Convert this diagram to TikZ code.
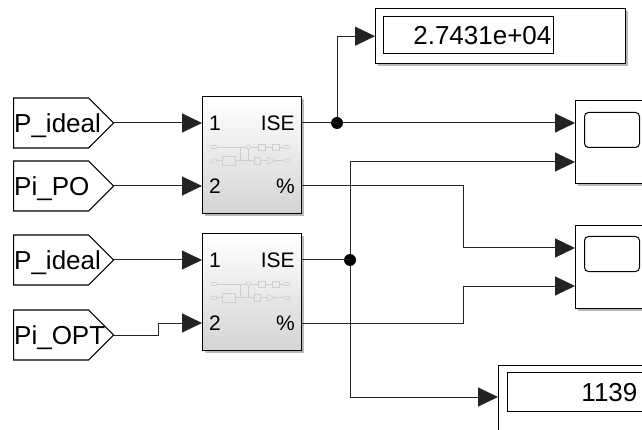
\documentclass[tikz,border=0pt]{standalone}
\usepackage{fontspec}
\setmainfont{Liberation Sans}
\usetikzlibrary{shapes.symbols,arrows.meta,positioning,calc,shadows}

\definecolor{wirecol}{RGB}{35,35,35}
\definecolor{icongray}{RGB}{205,205,205}

\tikzset{
    sig/.style={draw=wirecol, line width=1pt, -{Triangle[length=20pt,width=19pt]}},
    bare/.style={draw=wirecol, line width=1pt},
    goto/.style={signal, signal to=east, signal pointer angle=90, draw=black, line width=1.2pt,
        fill=white, minimum width=100pt, minimum height=50pt, inner sep=0pt},
    bigtext/.style={font=\fontsize{26}{30}\selectfont, text height=18.6pt, text depth=0pt},
    porttext/.style={font=\fontsize{21}{24}\selectfont, text height=15pt, text depth=0pt, inner sep=0pt},
    blkshadow/.style={drop shadow={shadow xshift=2.5pt, shadow yshift=-2.5pt, fill=black!50, opacity=.55}},
    subsys/.style={draw=black, line width=1.4pt, top color=white, bottom color=black!17,
        minimum width=99pt, minimum height=117pt, inner sep=0pt, blkshadow},
    dispbox/.style={draw=black, line width=1.4pt, fill=white, inner sep=0pt, blkshadow},
    dispval/.style={draw=black, line width=0.8pt, align=right, bigtext, inner ysep=0pt},
    scopebox/.style={draw=black, line width=1.4pt, fill=white, minimum width=100pt,
        minimum height=83pt, inner sep=0pt, blkshadow},
    screen/.style={draw=black, line width=1pt, rounded corners=4pt, minimum width=55pt,
        minimum height=35pt, inner sep=0pt},
    junction/.style={circle, fill=black, inner sep=0pt, minimum size=12pt},
    subicon/.pic={
        \begin{scope}[draw=icongray, line width=0.6pt]
        % upper row
        \draw[rounded corners=1pt] (9,49.5) rectangle (15,52.5);
        \draw (15,51) -- (44.3,51) (48.3,51) -- (56.3,51);
        \draw (46.3,51) circle (2pt);
        \draw (38,51) -- (38,64.7) (46.3,53) -- (46.3,64.7);
        \draw (56.3,48) rectangle (63,54);
        \draw (63,51) -- (70.7,51);
        \draw (70.7,48) rectangle (77.3,54);
        \draw (77.3,51) -- (82,51);
        \draw[rounded corners=1pt] (82,49.5) rectangle (88,52.5);
        % lower row
        \draw[rounded corners=1pt] (9,63.2) rectangle (15,66.2);
        \draw (15,64.7) -- (20.3,64.7);
        \draw (20.3,60.7) rectangle (33,69);
        \draw (33,64.7) -- (52.3,64.7);
        \draw (52.3,61.3) rectangle (58.7,68);
        \draw (58.7,64.7) -- (65.3,64.7);
        \draw (65.3,61.3) -- (73,64.7) -- (65.3,68) -- cycle;
        \draw (73,64.7) -- (82,64.7);
        \draw[rounded corners=1pt] (82,63.2) rectangle (88,66.2);
        \end{scope}
    }
}

\begin{document}
\begin{tikzpicture}[x=1pt, y=-1pt]
    \clip (0,0) rectangle (642,430);
    \fill[white] (0,0) rectangle (642,430);

    % subsystem blocks
    \node[subsys, anchor=north west] (blkA) at (202,96) {};
    \node[subsys, anchor=north west] (blkB) at (202,233) {};

    \foreach \b in {blkA,blkB} {
        \coordinate (\b-in1) at ($(\b.north west)+(0,27)$);
        \coordinate (\b-in2) at ($(\b.north west)+(0,90)$);
        \coordinate (\b-out1) at ($(\b.north east)+(0,27)$);
        \coordinate (\b-out2) at ($(\b.north east)+(0,90)$);
        \pic at (\b.north west) {subicon};
        \node[porttext, anchor=west, xshift=7pt] (\b-n1) at (\b-in1) {1};
        \node[porttext, anchor=west, xshift=7pt] (\b-n2) at (\b-in2) {2};
        \node[porttext, anchor=east, xshift=-7.5pt] (\b-ise) at (\b-out1) {ISE};
        \node[porttext, anchor=east, xshift=-7.5pt] (\b-pct) at (\b-out2) {\%};
    }

    % from tags
    \node[goto, anchor=west] (tagA) at (13,123) {};
    \node[goto, anchor=west] (tagB) at (13,186) {};
    \node[goto, anchor=west] (tagC) at (13,260) {};
    \node[goto, anchor=west] (tagD) at (13,335) {};
    \node[bigtext, anchor=west, inner sep=1pt] (tagAtxt) at (tagA.west) {P\_ideal};
    \node[bigtext, anchor=west, inner sep=1pt] (tagBtxt) at (tagB.west) {Pi\_PO};
    \node[bigtext, anchor=west, inner sep=1pt] (tagCtxt) at (tagC.west) {P\_ideal};
    \node[bigtext, anchor=west, inner sep=1pt] (tagDtxt) at (tagD.west) {Pi\_OPT};

    % displays
    \node[dispbox, minimum width=250pt, minimum height=55pt, anchor=north west] (dispA) at (375,8) {};
    \node[dispval, text width=166pt, inner xsep=2pt, minimum height=37pt, anchor=north west]
        (dispAval) at ($(dispA.north west)+(8,8)$) {2.7431e+04};
    \node[dispbox, minimum width=200pt, minimum height=100pt, anchor=north west] (dispB) at (498,365) {};
    \node[dispval, text width=125pt, inner xsep=5pt, minimum height=39pt, anchor=north west]
        (dispBval) at ($(dispB.north west)+(9,7)$) {1139};
    \coordinate (dispBin) at ($(dispB.north west)+(0,32)$);

    % scopes
    \node[scopebox, anchor=north west] (scopeA) at (575,100) {};
    \node[screen, anchor=north west] (scrA) at ($(scopeA.north west)+(9,12)$) {};
    \node[scopebox, anchor=north west] (scopeB) at (575,225) {};
    \node[screen, anchor=north west] (scrB) at ($(scopeB.north west)+(9,11)$) {};
    \coordinate (scA2) at ($(scopeA.north west)+(0,62)$);
    \coordinate (scB1) at ($(scopeB.north west)+(0,23)$);
    \coordinate (scB2) at ($(scopeB.north west)+(0,61)$);

    % branch points
    \node[junction] (dotA) at (337,123) {};
    \node[junction] (dotB) at (350,260) {};
    \coordinate (jogX) at (158,0);
    \coordinate (busX) at (463,0);

    % inputs
    \draw[sig] (tagA.east) -- (blkA-in1);
    \draw[sig] (tagB.east) -- (blkA-in2);
    \draw[sig] (tagC.east) -- (blkB-in1);
    \draw[sig] (tagD.east) -| (jogX |- blkB-in2) -- (blkB-in2);

    % outputs
    \draw[bare] (blkA-out1) -- (dotA.center);
    \draw[sig] (dotA) -- (dotA -| scopeA.west);
    \draw[sig] (dotA) |- (dispA.west);
    \draw[bare] (blkB-out1) -- (dotB.center);
    \draw[sig] (dotB) |- (scA2);
    \draw[sig] (dotB) |- (dispBin);
    \draw[sig] (blkA-out2) -| (busX |- scB1) -- (scB1);
    \draw[sig] (blkB-out2) -| (busX |- scB2) -- (scB2);
\end{tikzpicture}
\end{document}
